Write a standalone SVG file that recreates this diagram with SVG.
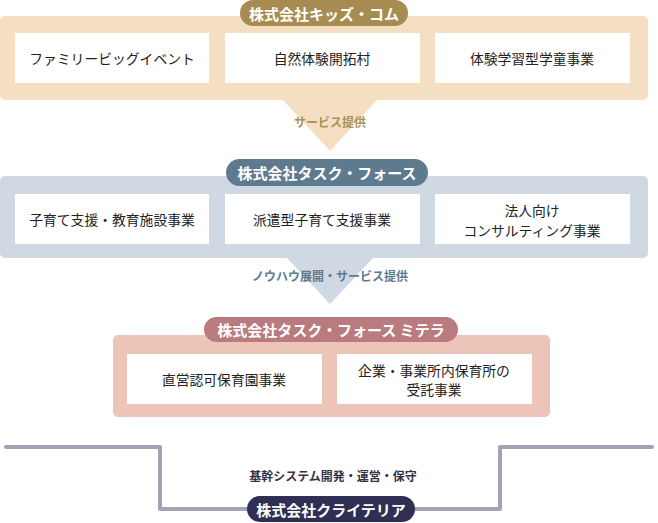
<svg xmlns="http://www.w3.org/2000/svg" width="658" height="523" viewBox="0 0 658 523">
<style>
text{font-family:"Noto Sans CJK JP","Noto Sans",sans-serif;text-anchor:middle;dominant-baseline:central}
.box{fill:#ffffff}
.bt{font-size:13.8px;fill:#222222}
.pt{font-size:15px;font-weight:bold;fill:#ffffff}
.lbl{font-size:12px;font-weight:bold}
</style>
<rect width="658" height="523" fill="#ffffff"/>
<g id="connectors">
<polygon points="283,100 377,100 330,151" fill="#f5dfc3"/>
<text class="lbl" x="330" y="121" fill="#a8915a">サービス提供</text>
<polygon points="287,258 373,258 330,304" fill="#d0d9e3"/>
<text class="lbl" x="330" y="275" fill="#5e7a8e">ノウハウ展開・サービス提供</text>
<polyline points="6,447 160,447 160,509 500,509 500,447 652,447" fill="none" stroke="#a6a2b6" stroke-width="4" stroke-linecap="round" stroke-linejoin="round"/>
<text class="lbl" x="333" y="475" fill="#333344">基幹システム開発・運営・保守</text>
</g>
<g id="kidscom">
<rect x="0" y="16" width="648" height="84" rx="5" fill="#f5dfc3"/>
<rect x="240" y="0" width="168" height="26" rx="13" fill="#a78c52"/>
<text class="pt" x="324" y="13">株式会社キッズ・コム</text>
<rect class="box" x="15" y="33" width="194" height="50"/>
<text class="bt" x="112" y="58">ファミリービッグイベント</text>
<rect class="box" x="225" y="33" width="195" height="50"/>
<text class="bt" x="322" y="58">自然体験開拓村</text>
<rect class="box" x="435" y="33" width="195" height="50"/>
<text class="bt" x="532" y="58">体験学習型学童事業</text>
</g>
<g id="taskforce">
<rect x="0" y="176" width="648" height="82" rx="5" fill="#d0d9e3"/>
<rect x="226" y="159" width="202" height="27" rx="13.5" fill="#5e7a8e"/>
<text class="pt" x="327" y="172.5">株式会社タスク・フォース</text>
<rect class="box" x="15" y="194" width="194" height="50"/>
<text class="bt" x="112" y="219">子育て支援・教育施設事業</text>
<rect class="box" x="225" y="194" width="195" height="50"/>
<text class="bt" x="322" y="219">派遣型子育て支援事業</text>
<rect class="box" x="435" y="194" width="195" height="50"/>
<text class="bt" x="532" y="210">法人向け</text>
<text class="bt" x="532" y="230">コンサルティング事業</text>
</g>
<g id="mitera">
<rect x="113" y="335" width="437" height="82" rx="5" fill="#ecc4b8"/>
<rect x="204" y="317" width="254" height="25" rx="12.5" fill="#b97b7f"/>
<text class="pt" x="331" y="329.5">株式会社タスク・フォース ミテラ</text>
<rect class="box" x="127" y="354" width="195" height="50"/>
<text class="bt" x="224" y="379">直営認可保育園事業</text>
<rect class="box" x="337" y="354" width="195" height="50"/>
<text class="bt" x="434" y="370">企業・事業所内保育所の</text>
<text class="bt" x="434" y="389">受託事業</text>
</g>
<g id="criteria">
<rect x="247" y="496" width="168" height="26" rx="13" fill="#2e2f52"/>
<text class="pt" x="331" y="509">株式会社クライテリア</text>
</g>
</svg>
